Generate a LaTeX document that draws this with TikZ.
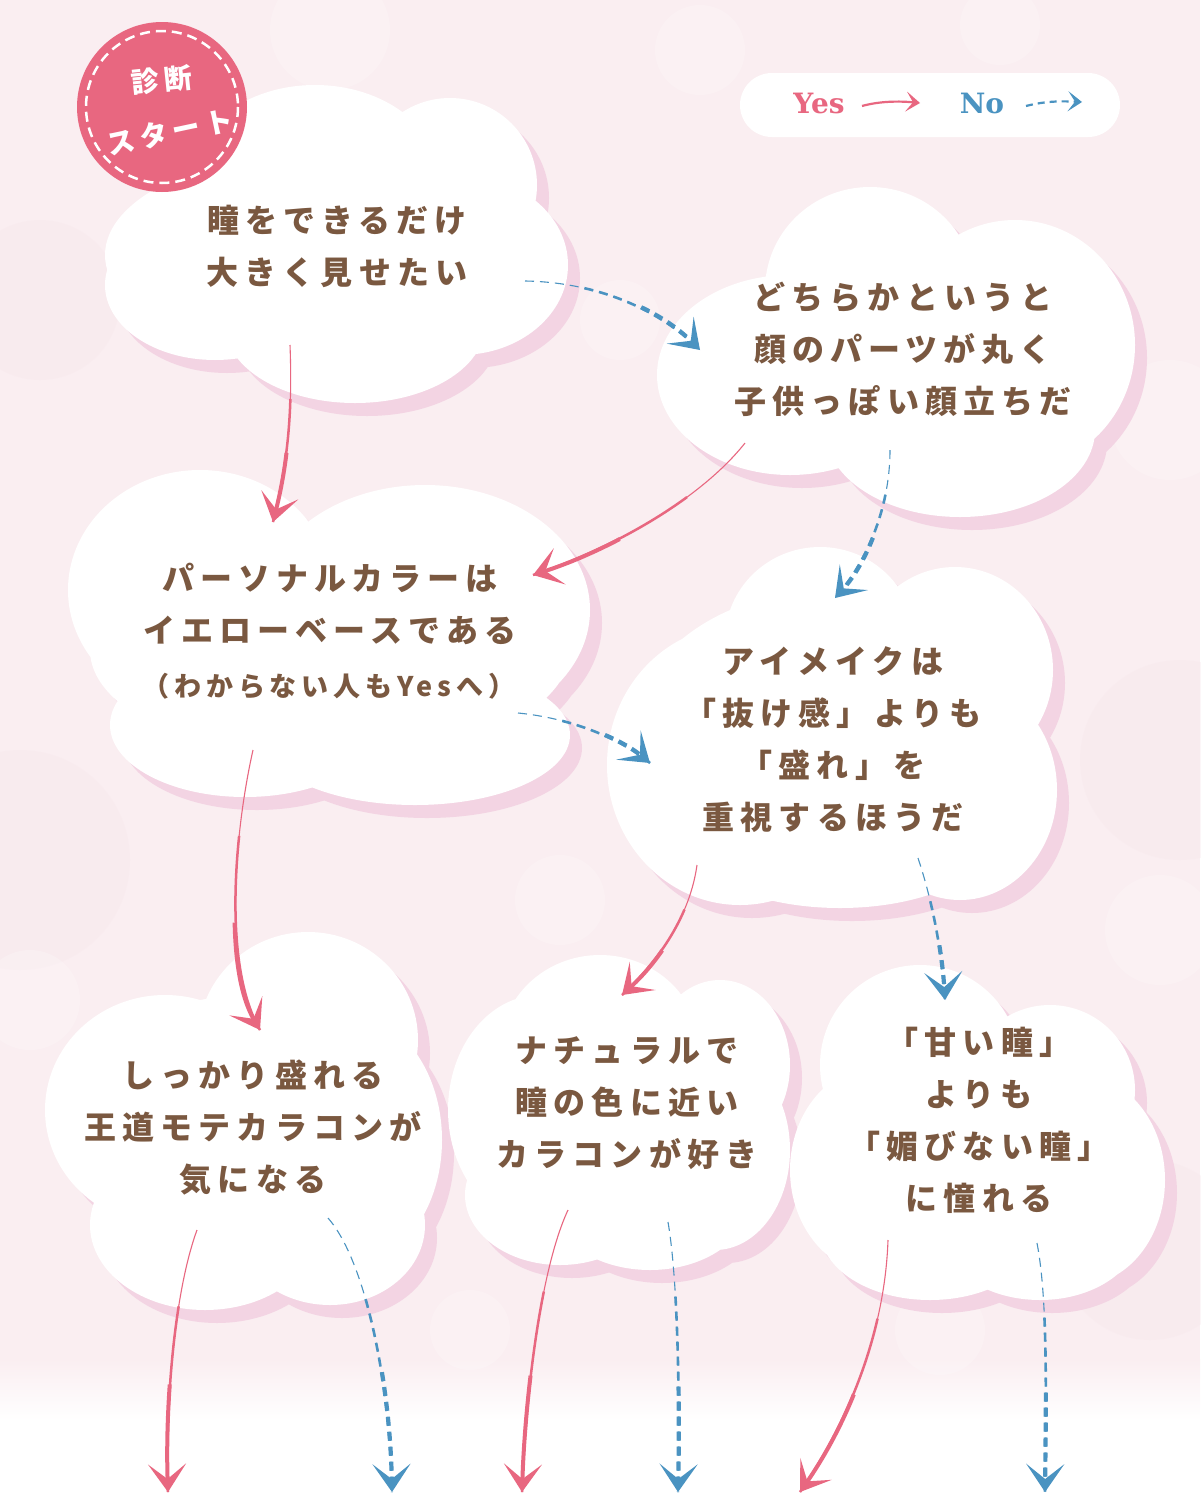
\documentclass[tikz,border=0pt]{standalone}
\usepackage{fontspec}
\usetikzlibrary{arrows.meta}
\newfontfamily\jpl{Noto Sans CJK JP}[LetterSpace=19]
\newfontfamily\jps{Noto Sans CJK JP}[LetterSpace=18]
\newfontfamily\jpb{Noto Sans CJK JP}[LetterSpace=20]
\newfontfamily\slab{DejaVu Serif}
\definecolor{bgpink}{RGB}{250,238,241}
\definecolor{bokeh}{RGB}{247,230,235}
\definecolor{shadowpink}{RGB}{243,212,227}
\definecolor{yespink}{RGB}{232,103,128}
\definecolor{noblue}{RGB}{74,147,193}
\definecolor{txtbrown}{RGB}{122,88,64}
\def\manydash{on 9pt off 6pt on 9pt off 6pt on 9pt off 6pt on 9pt off 6pt on 9pt off 6pt on 9pt off 6pt on 9pt off 6pt on 9pt off 6pt on 9pt off 6pt on 9pt off 6pt on 9pt off 6pt on 9pt off 6pt on 9pt off 6pt on 9pt off 6pt on 9pt off 6pt on 9pt off 6pt on 9pt off 6pt on 9pt off 6pt on 9pt off 6pt on 9pt off 6pt on 9pt off 6pt on 9pt off 6pt on 9pt off 6pt on 9pt off 6pt}
\tikzset{
  yesln/.style={draw=yespink},
  noln/.style={draw=noblue},
  bigtip/.style={-{Stealth[length=28pt,width=38pt,inset=15pt]}},
  cloudtext/.style={text=txtbrown,font=\jpl\bfseries\fontsize{32}{52}\selectfont,align=center,inner sep=0pt},
  smalltext/.style={text=txtbrown,font=\jps\bfseries\fontsize{27}{30}\selectfont,align=center,inner sep=0pt},
  badgetext/.style={text=white,font=\jpb\bfseries\fontsize{28}{32}\selectfont,inner sep=0pt},
  legendtext/.style={font=\slab\bfseries\fontsize{28}{30}\selectfont,inner sep=0pt}
}
% tapered solid arrow: start, c1, c2, end, approx length
\newcommand\yesarrow[5]{%
  \pgfmathsetmacro\offa{0.3*#5}\pgfmathsetmacro\offb{0.6*#5}%
  \draw[yesln,line width=1.1pt] (#1) .. controls #2 and #3 .. (#4);
  \draw[yesln,line width=2.5pt,dash pattern/.expanded={on 0pt off \offa pt on 3000pt}] (#1) .. controls #2 and #3 .. (#4);
  \draw[yesln,line width=4pt,dash pattern/.expanded={on 0pt off \offb pt on 3000pt},bigtip] (#1) .. controls #2 and #3 .. (#4);
}
\newcommand\noarrow[5]{%
  \pgfmathsetmacro\offa{15*round(0.3*#5/15)}\pgfmathsetmacro\offb{15*round(0.6*#5/15)}%
  \draw[noln,line width=1.1pt,dash pattern/.expanded={\manydash}] (#1) .. controls #2 and #3 .. (#4);
  \draw[noln,line width=2.6pt,dash pattern/.expanded={on 0pt off \offa pt \manydash}] (#1) .. controls #2 and #3 .. (#4);
  \draw[noln,line width=4.2pt,dash pattern/.expanded={on 0pt off \offb pt \manydash},bigtip] (#1) .. controls #2 and #3 .. (#4);
}
% clouds
\newcommand\cloudA[1]{\fill[#1] (330,255) ellipse [x radius=225,y radius=105]
  (315,180) ellipse [x radius=125,y radius=95]
  (450,185) ellipse [x radius=87,y radius=87]
  (460,265) ellipse [x radius=108,y radius=90]
  (355,325) ellipse [x radius=130,y radius=78]
  (215,285) ellipse [x radius=110,y radius=75];}
\newcommand\cloudB[1]{\fill[#1] (900,370) ellipse [x radius=200,y radius=100]
  (790,375) ellipse [x radius=133,y radius=100]
  (870,290) ellipse [x radius=105,y radius=103]
  (1015,345) ellipse [x radius=120,y radius=125]
  (960,430) ellipse [x radius=135,y radius=87];}
\newcommand\cloudC[1]{\fill[#1] (330,650) ellipse [x radius=240,y radius=110]
  (200,590) ellipse [x radius=132,y radius=120]
  (425,610) ellipse [x radius=165,y radius=125]
  (245,725) ellipse [x radius=135,y radius=72]
  (415,735) ellipse [x radius=155,y radius=70];}
\newcommand\cloudD[1]{\fill[#1] (830,740) ellipse [x radius=200,y radius=150]
  (820,640) ellipse [x radius=95,y radius=93]
  (955,670) ellipse [x radius=98,y radius=103]
  (960,790) ellipse [x radius=97,y radius=110]
  (740,765) ellipse [x radius=133,y radius=140]
  (840,830) ellipse [x radius=160,y radius=78];}
\newcommand\cloudE[1]{\fill[#1] (250,1125) ellipse [x radius=180,y radius=130]
  (308,1040) ellipse [x radius=110,y radius=108]
  (165,1110) ellipse [x radius=120,y radius=115]
  (350,1140) ellipse [x radius=92,y radius=125]
  (205,1225) ellipse [x radius=115,y radius=85]
  (330,1225) ellipse [x radius=95,y radius=80];}
\newcommand\cloudF[1]{\fill[#1] (620,1110) ellipse [x radius=150,y radius=120]
  (600,1050) ellipse [x radius=100,y radius=95]
  (720,1065) ellipse [x radius=70,y radius=85]
  (540,1110) ellipse [x radius=92,y radius=115]
  (715,1150) ellipse [x radius=75,y radius=100]
  (560,1195) ellipse [x radius=95,y radius=70]
  (650,1200) ellipse [x radius=100,y radius=70];}
\newcommand\cloudG[1]{\fill[#1] (975,1150) ellipse [x radius=170,y radius=120]
  (920,1065) ellipse [x radius=100,y radius=100]
  (1050,1090) ellipse [x radius=85,y radius=85]
  (880,1170) ellipse [x radius=90,y radius=105]
  (1080,1180) ellipse [x radius=85,y radius=105]
  (930,1230) ellipse [x radius=110,y radius=70]
  (1040,1230) ellipse [x radius=100,y radius=70];}
\begin{document}
\begin{tikzpicture}[x=1pt,y=-1pt]
\useasboundingbox (0,0) rectangle (1200,1494);
% background
\fill[white] (0,0) rectangle (1200,1494);
\fill[bgpink] (0,0) rectangle (1200,1360);
\shade[top color=bgpink,bottom color=white] (0,1359) rectangle (1200,1420);
\begin{scope}[opacity=0.35]
  \fill[bokeh] (20,860) circle [radius=110];
  \fill[bokeh] (1180,760) circle [radius=100];
  \fill[bokeh] (40,300) circle [radius=80];
  \fill[bokeh] (1150,1250) circle [radius=90];
\end{scope}
\begin{scope}[opacity=0.2]
  \fill[white] (330,30) circle [radius=60];
  \fill[white] (700,50) circle [radius=45];
  \fill[white] (1000,25) circle [radius=40];
  \fill[white] (1170,420) circle [radius=60];
  \fill[white] (620,320) circle [radius=40];
  \fill[white] (560,900) circle [radius=45];
  \fill[white] (1160,930) circle [radius=55];
  \fill[white] (30,1000) circle [radius=50];
  \fill[white] (470,1330) circle [radius=40];
  \fill[white] (940,1330) circle [radius=45];
\end{scope}
% cloud shadows
\cloudA{shadowpink,shift={(12,13)}}
\cloudB{shadowpink,shift={(12,13)}}
\cloudC{shadowpink,shift={(12,13)}}
\cloudD{shadowpink,shift={(12,13)}}
\cloudE{shadowpink,shift={(12,13)}}
\cloudF{shadowpink,shift={(12,13)}}
\cloudG{shadowpink,shift={(12,13)}}
% clouds
\cloudA{white}
\cloudB{white}
\cloudC{white}
\cloudD{white}
\cloudE{white}
\cloudF{white}
\cloudG{white}
% start badge
\fill[yespink] (162,107) circle [radius=85];
\draw[white,line width=2.5pt,dash pattern=on 10pt off 6pt] (162,107) circle [radius=76];
\node[badgetext,rotate=6] (badge1) at (162,80) {診断};
\node[badgetext,rotate=12] (badge2) at (170,132) {スタート};
% legend
\fill[white,rounded corners=32pt] (740,73) rectangle (1120,137);
\node[legendtext,text=yespink] (lyes) at (819,103) {Yes};
\node[legendtext,text=noblue] (lno) at (982,103) {No};
\coordinate (ly-s) at (862,106); \coordinate (ly-e) at (920,103);
\coordinate (ln-s) at (1026,106); \coordinate (ln-e) at (1082,102);
\draw[yesln,line width=2.2pt,-{Stealth[length=14pt,width=20pt,inset=7pt]}] (ly-s) .. controls (880,101) and (900,101) .. (ly-e);
\draw[noln,line width=2.2pt,dash pattern=on 7pt off 5pt,-{Stealth[length=14pt,width=20pt,inset=7pt]}] (ln-s) .. controls (1045,101) and (1062,101) .. (ln-e);
% connector end points
\coordinate (yAC-s) at (290,345); \coordinate (yAC-e) at (273,522);
\coordinate (nAB-s) at (525,281); \coordinate (nAB-e) at (700,350);
\coordinate (yBC-s) at (745,443); \coordinate (yBC-e) at (533,575);
\coordinate (nBD-s) at (890,450); \coordinate (nBD-e) at (835,598);
\coordinate (nCD-s) at (518,713); \coordinate (nCD-e) at (650,763);
\coordinate (yCE-s) at (253,750); \coordinate (yCE-e) at (260,1030);
\coordinate (yDF-s) at (697,865); \coordinate (yDF-e) at (622,995);
\coordinate (nDG-s) at (918,858); \coordinate (nDG-e) at (945,1000);
\coordinate (yE-s) at (197,1230); \coordinate (yE-e) at (168,1492);
\coordinate (nE-s) at (328,1218); \coordinate (nE-e) at (392,1492);
\coordinate (yF-s) at (568,1210); \coordinate (yF-e) at (522,1492);
\coordinate (nF-s) at (668,1222); \coordinate (nF-e) at (678,1492);
\coordinate (yG-s) at (888,1240); \coordinate (yG-e) at (800,1492);
\coordinate (nG-s) at (1037,1243); \coordinate (nG-e) at (1045,1492);
% connectors
\yesarrow{yAC-s}{(293,420)}{(286,470)}{yAC-e}{180}
\noarrow{nAB-s}{(590,282)}{(655,305)}{nAB-e}{195}
\yesarrow{yBC-s}{(700,500)}{(610,550)}{yBC-e}{265}
\noarrow{nBD-s}{(890,510)}{(865,565)}{nBD-e}{158}
\noarrow{nCD-s}{(570,718)}{(620,738)}{nCD-e}{141}
\yesarrow{yCE-s}{(235,830)}{(222,965)}{yCE-e}{290}
\yesarrow{yDF-s}{(690,915)}{(660,960)}{yDF-e}{155}
\noarrow{nDG-s}{(932,900)}{(942,950)}{nDG-e}{145}
\yesarrow{yE-s}{(175,1290)}{(165,1400)}{yE-e}{262}
\noarrow{nE-s}{(365,1260)}{(390,1380)}{nE-e}{280}
\yesarrow{yF-s}{(540,1270)}{(525,1400)}{yF-e}{284}
\noarrow{nF-s}{(678,1280)}{(680,1400)}{nF-e}{268}
\yesarrow{yG-s}{(885,1330)}{(850,1420)}{yG-e}{265}
\noarrow{nG-s}{(1048,1300)}{(1046,1400)}{nG-e}{247}
% texts
\node[cloudtext] (tA) at (337,246) {瞳をできるだけ\\大きく見せたい};
\node[cloudtext] (tB) at (903,349) {どちらかというと\\顔のパーツが丸く\\子供っぽい顔立ちだ};
\node[cloudtext] (tC) at (330,604) {パーソナルカラーは\\イエローベースである};
\node[smalltext] (tC2) at (329,686) {（わからない人もYesへ）};
\node[cloudtext] (tD) at (833,740) {アイメイクは\\「抜け感」よりも\\「盛れ」を\\重視するほうだ};
\node[cloudtext] (tE) at (253,1127) {しっかり盛れる\\王道モテカラコンが\\気になる};
\node[cloudtext] (tF) at (627,1103) {ナチュラルで\\瞳の色に近い\\カラコンが好き};
\node[cloudtext] (tG) at (979,1120) {「甘い瞳」\\よりも\\「媚びない瞳」\\に憧れる};
\end{tikzpicture}
\end{document}
